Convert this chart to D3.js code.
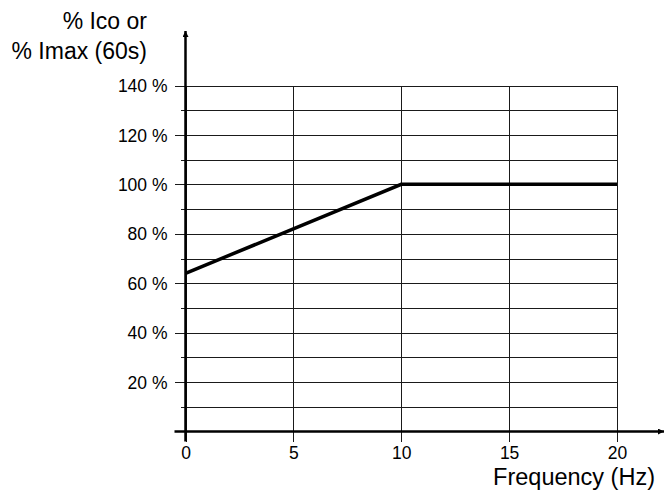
<!DOCTYPE html>
<html>
<head>
<meta charset="utf-8">
<script src="https://d3js.org/d3.v7.min.js"></script>
<style>
  body { margin: 0; background: #fff; }
  text { font-family: "Liberation Sans", Arial, sans-serif; fill: #000; }
  .domain { display: none; }
  .grid line { shape-rendering: crispEdges; stroke: #1a1a1a; }
</style>
</head>
<body>
<script>
// curve: frequency (Hz) vs % of Ico / Imax
const freq = [0, 10, 20];
const pct = [64, 100, 100];
const xTicks = [0, 5, 10, 15, 20];
const yMajor = [20, 40, 60, 80, 100, 120, 140];
const yMinor = [10, 30, 50, 70, 90, 110, 130];

const width = 670, height = 492;
const svg = d3.select('body').append('svg')
  .attr('width', width).attr('height', height);

const x = d3.scaleLinear().domain([0, 20]).range([185.5, 617]);
const y = d3.scaleLinear().domain([0, 140]).range([431.5, 85.5]);
const lbl = '"Liberation Sans", Arial, sans-serif';

// minor horizontal grid
svg.append('g').attr('class', 'grid')
  .attr('transform', `translate(${x(0)},0)`)
  .call(d3.axisLeft(y).tickValues(yMinor).tickSize(-(x(20) - x(0))).tickFormat(''))
  .call(g => g.selectAll('.tick line').attr('x1', -5));

// major horizontal grid + labels
svg.append('g').attr('class', 'grid')
  .attr('transform', `translate(${x(0)},0)`)
  .call(d3.axisLeft(y).tickValues(yMajor).tickSize(-(x(20) - x(0))).tickPadding(18)
    .tickFormat(d => d + ' %'))
  .call(g => g.selectAll('.tick line').attr('x1', -11))
  .call(g => g.selectAll('.tick text').attr('font-size', 17.5).attr('dy', '0.35em').style('font-family', lbl));

// vertical grid + x labels
svg.append('g').attr('class', 'grid')
  .attr('transform', `translate(0,${y(140)})`)
  .call(d3.axisBottom(x).tickValues(xTicks).tickSize(y(0) - y(140) + 10).tickPadding(5))
  .call(g => g.selectAll('.tick text').attr('font-size', 17.5).style('font-family', lbl));

// arrow marker
svg.append('defs').append('marker')
  .attr('id', 'arr')
  .attr('viewBox', '0 0 10 10')
  .attr('refX', 10).attr('refY', 5)
  .attr('markerUnits', 'userSpaceOnUse')
  .attr('markerWidth', 8).attr('markerHeight', 6)
  .attr('orient', 'auto')
  .append('path').attr('d', 'M0,0L10,5L0,10z').attr('fill', '#000');

// axes
svg.append('line')
  .attr('x1', x(0) - 11).attr('x2', 664)
  .attr('y1', y(0)).attr('y2', y(0))
  .attr('stroke', '#000').attr('stroke-width', 2.5)
  .attr('marker-end', 'url(#arr)');
svg.append('line')
  .attr('x1', x(0)).attr('x2', x(0))
  .attr('y1', y(0) + 10).attr('y2', 31)
  .attr('stroke', '#000').attr('stroke-width', 2.5)
  .attr('marker-end', 'url(#arr)');

// curve
const pts = freq.map((f, i) => [f, pct[i]]);
svg.append('path')
  .datum(pts)
  .attr('fill', 'none')
  .attr('stroke', '#000')
  .attr('stroke-width', 3.5)
  .attr('d', d3.line().x(d => x(d[0])).y(d => y(d[1])));

// titles
const yt = svg.append('text')
  .attr('text-anchor', 'end')
  .attr('font-size', 23);
yt.append('tspan').attr('x', 147).attr('y', 29).text('% Ico or');
yt.append('tspan').attr('x', 147).attr('y', 59).text('% Imax (60s)');

svg.append('text')
  .attr('x', 655).attr('y', 485)
  .attr('text-anchor', 'end')
  .attr('font-size', 23.5)
  .text('Frequency (Hz)');
</script>
</body>
</html>
